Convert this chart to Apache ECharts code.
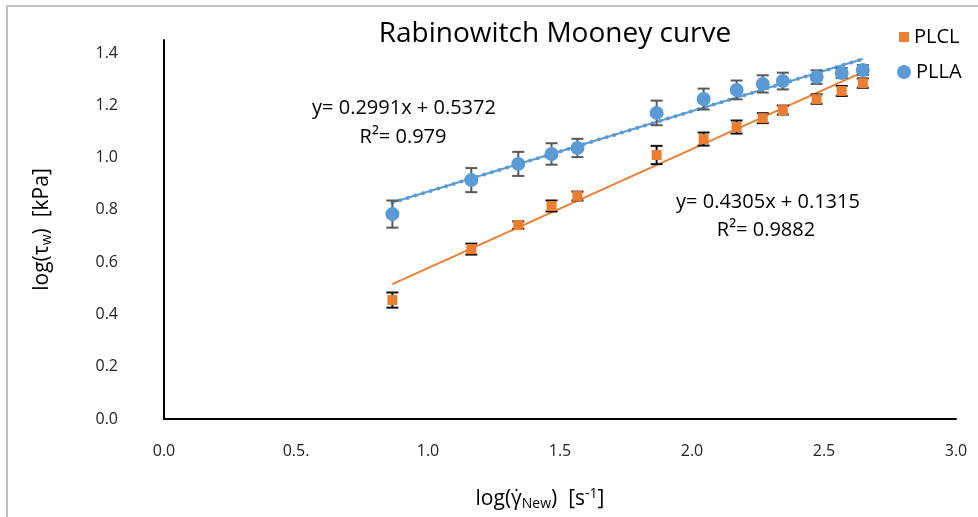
<!DOCTYPE html>
<html>
<head>
<meta charset="utf-8">
<script src="https://cdn.jsdelivr.net/npm/echarts@6/dist/echarts.min.js"></script>
<style>
  html, body { margin: 0; padding: 0; background: #fff; }
  #chart { width: 978px; height: 517px; }
</style>
</head>
<body>
<div id="chart"></div>
<script>
// values
const xVals = [0.865, 1.164, 1.342, 1.468, 1.566, 1.866, 2.044, 2.169, 2.268, 2.344, 2.472, 2.567, 2.647];
const pllaY = [0.784, 0.914, 0.976, 1.014, 1.037, 1.171, 1.224, 1.259, 1.282, 1.293, 1.308, 1.324, 1.335];
const pllaErr = [0.052, 0.046, 0.046, 0.041, 0.035, 0.047, 0.040, 0.036, 0.033, 0.032, 0.026, 0.019, 0.019];
const plclY = [0.455, 0.650, 0.742, 0.815, 0.853, 1.010, 1.071, 1.117, 1.151, 1.182, 1.224, 1.255, 1.285];
const plclErr = [0.029, 0.021, 0.014, 0.021, 0.017, 0.035, 0.025, 0.025, 0.019, 0.017, 0.018, 0.019, 0.018];
const pllaFit = [[0.865, 0.828], [2.647, 1.377]];
const plclFit = [[0.865, 0.516], [2.647, 1.327]];
const xTicks = ['0.0', '0.5.', '1.0', '1.5', '2.0', '2.5', '3.0'];
const yTicks = ['0.0', '0.2', '0.4', '0.6', '0.8', '1.0', '1.2', '1.4'];

const font = 'Open Sans';
const blue = '#5b9bd5';
const orange = '#ed7d31';

const pts = (ys) => xVals.map((x, i) => [x, ys[i]]);
const bars = (ys, es) => xVals.map((x, i) => [x, ys[i] - es[i], ys[i] + es[i]]);

function errorBar(color) {
    return function (params, api) {
        const lo = api.coord([api.value(0), api.value(1)]);
        const hi = api.coord([api.value(0), api.value(2)]);
        const w = 6;
        const style = { stroke: color, lineWidth: 2 };
        return {
            type: 'group',
            children: [
                { type: 'line', shape: { x1: lo[0], y1: lo[1], x2: hi[0], y2: hi[1] }, style },
                { type: 'line', shape: { x1: lo[0] - w, y1: lo[1], x2: lo[0] + w, y2: lo[1] }, style },
                { type: 'line', shape: { x1: hi[0] - w, y1: hi[1], x2: hi[0] + w, y2: hi[1] }, style }
            ]
        };
    };
}

function note(text, x, y) {
    return {
        type: 'text', x: x, y: y, silent: true,
        style: { text: text, fontFamily: font, fontSize: 20, fill: '#000', align: 'center', verticalAlign: 'middle' }
    };
}

const chart = echarts.init(document.getElementById('chart'));

const legendText = { fontFamily: font, fontSize: 20, color: '#000' };

const option = {
    animation: false,
    textStyle: { fontFamily: font },
    title: {
        text: 'Rabinowitch Mooney curve',
        left: 550,
        textAlign: 'center',
        top: 15,
        textStyle: { fontFamily: font, fontSize: 28, fontWeight: 'normal', color: '#000' }
    },
    legend: [
        {
            left: 894, top: 22, itemWidth: 10, itemHeight: 10, itemGap: 8,
            data: [{ name: 'PLCL', icon: 'rect', itemStyle: { color: orange } }],
            textStyle: legendText
        },
        {
            left: 892, top: 57, itemWidth: 14, itemHeight: 14, itemGap: 6,
            data: [{ name: 'PLLA', icon: 'circle', itemStyle: { color: blue } }],
            textStyle: legendText
        }
    ],
    grid: { left: 164, right: 22, top: 40, bottom: 98 },
    xAxis: {
        type: 'value',
        min: 0,
        max: 3,
        interval: 0.5,
        name: '{n|log(γ̇}{s|New}{n|)  [s}{p|-1}{n|]}',
        nameLocation: 'middle',
        nameGap: 68,
        nameTextStyle: {
            padding: [0, 40, 0, 0],
            rich: {
                n: { fontFamily: font, fontSize: 21, color: '#000' },
                s: { fontFamily: font, fontSize: 14, color: '#000', verticalAlign: 'bottom', padding: [10, 0, 0, 0] },
                p: { fontFamily: font, fontSize: 14, color: '#000', verticalAlign: 'top', padding: [0, 0, 9, 0] }
            }
        },
        axisLine: { lineStyle: { color: '#000', width: 2 } },
        axisTick: { show: false },
        splitLine: { show: false },
        axisLabel: {
            margin: 24,
            fontSize: 16,
            color: '#222',
            formatter: v => xTicks[Math.round(v / 0.5)]
        }
    },
    yAxis: {
        type: 'value',
        min: 0,
        max: 1.45,
        interval: 0.2,
        name: '{n|log(τ}{s|w}{n|)  [kPa]}',
        nameLocation: 'middle',
        nameGap: 110,
        nameTextStyle: {
            rich: {
                n: { fontFamily: font, fontSize: 21, color: '#000' },
                s: { fontFamily: font, fontSize: 14, color: '#000', verticalAlign: 'bottom', padding: [9, 0, 0, 0] }
            }
        },
        axisLine: { show: true, lineStyle: { color: '#000', width: 2 } },
        axisTick: { show: false },
        splitLine: { show: false },
        axisLabel: {
            margin: 46,
            fontSize: 16,
            color: '#222',
            formatter: v => {
                const k = Math.round(v / 0.2);
                return Math.abs(v / 0.2 - k) < 1e-6 ? yTicks[k] : '';
            }
        }
    },
    graphic: [
        { type: 'rect', shape: { x: 7, y: 6, width: 990, height: 530 }, style: { fill: 'none', stroke: '#c0c0c0', lineWidth: 2 }, silent: true },
        note('y= 0.2991x + 0.5372', 404, 108),
        note('R²= 0.979', 403, 137),
        note('y= 0.4305x + 0.1315', 768, 202),
        note('R²= 0.9882', 766, 230)
    ],
    series: [
        {
            name: 'PLCL fit', type: 'line', data: plclFit, showSymbol: false, z: 2,
            lineStyle: { color: orange, width: 2 }
        },
        {
            name: 'PLLA fit', type: 'line', data: pllaFit, showSymbol: false, z: 2,
            lineStyle: { color: blue, width: 2 }
        },
        {
            name: 'PLLA fit dots', type: 'line', data: pllaFit, showSymbol: false, z: 2,
            lineStyle: { color: blue, width: 4, type: [0, 8], cap: 'round' }
        },
        {
            name: 'PLCL err', type: 'custom', data: bars(plclY, plclErr), z: 3,
            renderItem: errorBar('#111')
        },
        {
            name: 'PLLA err', type: 'custom', data: bars(pllaY, pllaErr), z: 3,
            renderItem: errorBar('#595959')
        },
        {
            name: 'PLCL', type: 'scatter', data: pts(plclY), symbol: 'rect', symbolSize: 10, z: 4,
            itemStyle: { color: orange, opacity: 1 }
        },
        {
            name: 'PLLA', type: 'scatter', data: pts(pllaY), symbol: 'circle', symbolSize: 14, z: 4,
            itemStyle: { color: blue, opacity: 1 }
        }
    ]
};

chart.setOption(option);
</script>
</body>
</html>
